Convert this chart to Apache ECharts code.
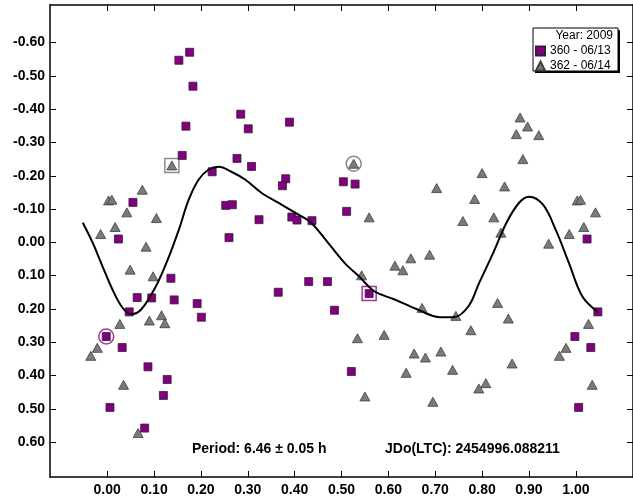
<!DOCTYPE html>
<html>
<head>
<meta charset="utf-8">
<script src="https://cdn.jsdelivr.net/npm/echarts@6/dist/echarts.min.js"></script>
<style>
  html, body { margin: 0; padding: 0; background: #fff; }
  #chart { width: 633px; height: 497px; }
</style>
</head>
<body>
<div id="chart"></div>
<script>
// Session 360 (2009-06/13): phase, reduced magnitude
const s360Phase = [0.176, 0.153, 0.183, 0.168, 0.160, 0.055, 0.024, 0.136, 0.064, 0.095,
  0.143, 0.192, 0.201, 0.047, -0.002, 0.032, 0.087, 0.128, 0.120, 0.006,
  0.080, 0.285, 0.389, 0.301, 0.277, 0.308, 0.224, 0.381, 0.374, 0.253,
  0.267, 0.324, 0.394, 0.405, 0.437, 0.260, 0.504, 0.529, 0.511, 0.430,
  0.470, 0.365, 0.485, 0.521, 0.559, 1.024, 1.047, 0.998, 1.032, 1.006];
const s360Mag = [-0.571, -0.547, -0.469, -0.349, -0.261, -0.120, -0.010, 0.108, 0.166, 0.167,
  0.173, 0.184, 0.225, 0.209, 0.283, 0.316, 0.374, 0.412, 0.460, 0.496,
  0.558, -0.385, -0.361, -0.341, -0.252, -0.228, -0.212, -0.191, -0.170, -0.111,
  -0.113, -0.068, -0.076, -0.067, -0.065, -0.014, -0.182, -0.175, -0.093, 0.118,
  0.118, 0.150, 0.204, 0.388, 0.154, -0.010, 0.209, 0.283, 0.316, 0.496];

// Session 362 (2009-06/14)
const s362Phase = [0.138, 0.075, 0.003, 0.010, 0.042, 0.105, 0.017, -0.014, 0.083, 0.049,
  0.098, 0.027, 0.090, 0.116, 0.123, -0.021, -0.035, 0.035, 0.066, 0.526,
  0.543, 0.559, 0.703, 0.800, 0.848, 0.887, 0.784, 0.759, 0.825, 0.840,
  0.648, 0.688, 0.614, 0.631, 0.672, 0.744, 0.833, 0.856, 0.776, 0.534,
  0.591, 0.655, 0.679, 0.712, 0.737, 0.638, 0.864, 0.550, 0.695, 0.793,
  0.808, 0.881, 0.897, 0.873, 0.921, 1.003, 1.010, 1.042, 1.017, 0.986,
  0.942, 1.027, 0.979, 0.965, 1.035];
const s362Mag = [-0.231, -0.158, -0.126, -0.128, -0.090, -0.073, -0.046, -0.025, 0.013, 0.082,
  0.102, 0.245, 0.235, 0.219, 0.243, 0.317, 0.341, 0.428, 0.573, -0.236,
  0.099, -0.075, -0.163, -0.208, -0.168, -0.250, -0.130, -0.064, -0.075, -0.029,
  0.048, 0.037, 0.070, 0.084, 0.197, 0.221, 0.182, 0.229, 0.264, 0.288,
  0.278, 0.334, 0.346, 0.328, 0.383, 0.392, 0.364, 0.463, 0.479, 0.439,
  0.423, -0.375, -0.348, -0.325, -0.322, -0.126, -0.128, -0.090, -0.046, -0.025,
  0.004, 0.245, 0.317, 0.341, 0.428];

// Marked observations: ringed / boxed
const s360Ring = [[-0.002, 0.283]];
const s360Box = [[0.559, 0.154]];
const s362Box = [[0.138, -0.231]];
const s362Ring = [[0.526, -0.236]];

// Fourier fit curve
const fitPhase = [-0.052, -0.031, -0.010, 0.011, 0.032, 0.051, 0.073, 0.104, 0.132, 0.153,
  0.174, 0.195, 0.216, 0.238, 0.265, 0.295, 0.329, 0.365, 0.401, 0.435,
  0.471, 0.506, 0.540, 0.570, 0.612, 0.661, 0.710, 0.739, 0.771, 0.794,
  0.824, 0.852, 0.879, 0.900, 0.930, 0.957, 0.985, 1.014, 1.048];
const fitMag = [-0.059, 0.001, 0.072, 0.141, 0.195, 0.216, 0.201, 0.132, 0.042, -0.038,
  -0.128, -0.188, -0.218, -0.227, -0.212, -0.188, -0.149, -0.119, -0.089, -0.059,
  0.001, 0.061, 0.106, 0.147, 0.171, 0.201, 0.225, 0.225, 0.192, 0.121,
  0.031, -0.059, -0.119, -0.137, -0.113, -0.038, 0.061, 0.163, 0.211];

const xTicks = [0, 0.1, 0.2, 0.3, 0.4, 0.5, 0.6, 0.7, 0.8, 0.9, 1.0];
const yTicks = [-0.6, -0.5, -0.4, -0.3, -0.2, -0.1, 0, 0.1, 0.2, 0.3, 0.4, 0.5, 0.6];

const legendTitle = 'Year: 2009';
const name360 = '360 - 06/13';
const name362 = '362 - 06/14';
const periodText = 'Period: 6.46 \u00b1 0.05 h';
const epochText = 'JDo(LTC): 2454996.088211';

const zip = (a, b) => a.map((v, i) => [v, b[i]]);
const FONT = 'Arial, "Liberation Sans", sans-serif';
const frameLine = { show: true, onZero: false, lineStyle: { color: '#000', width: 1.5 } };
const fmt = v => v.toFixed(2);

function xAxisDef(pos, labels) {
  return {
    type: 'value', position: pos, min: -0.122, max: 1.122,
    axisLine: frameLine,
    axisTick: { show: true, inside: true, length: 6, customValues: xTicks, lineStyle: { color: '#000', width: 1 } },
    axisLabel: labels ? { show: true, customValues: xTicks, formatter: fmt, margin: 6,
      color: '#000', fontSize: 14, fontWeight: 'bold', fontFamily: FONT } : { show: false },
    splitLine: { show: false }
  };
}
function yAxisDef(pos, labels) {
  return {
    type: 'value', position: pos, inverse: true, min: -0.713, max: 0.705,
    axisLine: frameLine,
    axisTick: { show: true, inside: true, length: 6, customValues: yTicks, lineStyle: { color: '#000', width: 1 } },
    axisLabel: labels ? { show: true, customValues: yTicks, formatter: fmt, margin: 5,
      color: '#000', fontSize: 14, fontWeight: 'bold', fontFamily: FONT } : { show: false },
    splitLine: { show: false }
  };
}

const chart = echarts.init(document.getElementById('chart'), null, { renderer: 'canvas' });
chart.setOption({
  animation: false,
  backgroundColor: '#fff',
  grid: { left: 50, top: 5, width: 588, height: 473, containLabel: false },
  xAxis: [xAxisDef('bottom', true), xAxisDef('top', false)],
  yAxis: [yAxisDef('left', true), yAxisDef('right', false)],
  legend: {
    orient: 'vertical', left: 535, top: 45, padding: 0, itemGap: 3, z: 100,
    itemWidth: 9, itemHeight: 9, selectedMode: false,
    data: [name360, name362],
    textStyle: { color: '#000', fontSize: 12, fontFamily: FONT }
  },
  graphic: [
    { type: 'rect', shape: { x: 535, y: 30, width: 85, height: 43 }, style: { fill: '#000' }, z: 90 },
    { type: 'rect', shape: { x: 533, y: 28, width: 85, height: 43 }, style: { fill: '#fff', stroke: '#000', lineWidth: 1 }, z: 91 },
    { type: 'text', x: 613, y: 36, z: 92, style: { text: legendTitle, align: 'right', verticalAlign: 'middle', fill: '#000', fontSize: 12, fontFamily: FONT } },
    { type: 'text', x: 192, y: 449, z: 92, style: { text: periodText, align: 'left', verticalAlign: 'middle', fill: '#000', fontSize: 14, fontWeight: 'bold', fontFamily: FONT } },
    { type: 'text', x: 385, y: 449, z: 92, style: { text: epochText, align: 'left', verticalAlign: 'middle', fill: '#000', fontSize: 14, fontWeight: 'bold', fontFamily: FONT } }
  ],
  series: [
    { name: name360, type: 'scatter', data: zip(s360Phase, s360Mag), symbol: 'rect', symbolSize: 8,
      itemStyle: { color: '#800080', borderColor: '#3a1a3a', borderWidth: 0.8, opacity: 1 }, z: 3, silent: true },
    { name: name362, type: 'scatter', data: zip(s362Phase, s362Mag), symbol: 'triangle', symbolSize: [10, 9],
      itemStyle: { color: '#7a7a7a', borderColor: '#404040', borderWidth: 0.8, opacity: 1 }, z: 3, silent: true },
    { name: 'ring360', type: 'scatter', data: s360Ring, symbol: 'circle', symbolSize: 15,
      itemStyle: { color: 'rgba(0,0,0,0)', borderColor: '#9a3a9a', borderWidth: 1.5, opacity: 1 }, z: 2, silent: true },
    { name: 'box360', type: 'scatter', data: s360Box, symbol: 'rect', symbolSize: 14,
      itemStyle: { color: 'rgba(0,0,0,0)', borderColor: '#9a3a9a', borderWidth: 1.5, opacity: 1 }, z: 2, silent: true },
    { name: 'box362', type: 'scatter', data: s362Box, symbol: 'rect', symbolSize: 14,
      itemStyle: { color: 'rgba(0,0,0,0)', borderColor: '#8a8a8a', borderWidth: 1.5, opacity: 1 }, z: 2, silent: true },
    { name: 'ring362', type: 'scatter', data: s362Ring, symbol: 'circle', symbolSize: 15,
      itemStyle: { color: 'rgba(0,0,0,0)', borderColor: '#8a8a8a', borderWidth: 1.5, opacity: 1 }, z: 2, silent: true },
    { name: 'fit', type: 'line', data: zip(fitPhase, fitMag), showSymbol: false, smooth: 0.35,
      lineStyle: { color: '#000', width: 2 }, z: 4, silent: true }
  ]
});
</script>
</body>
</html>
